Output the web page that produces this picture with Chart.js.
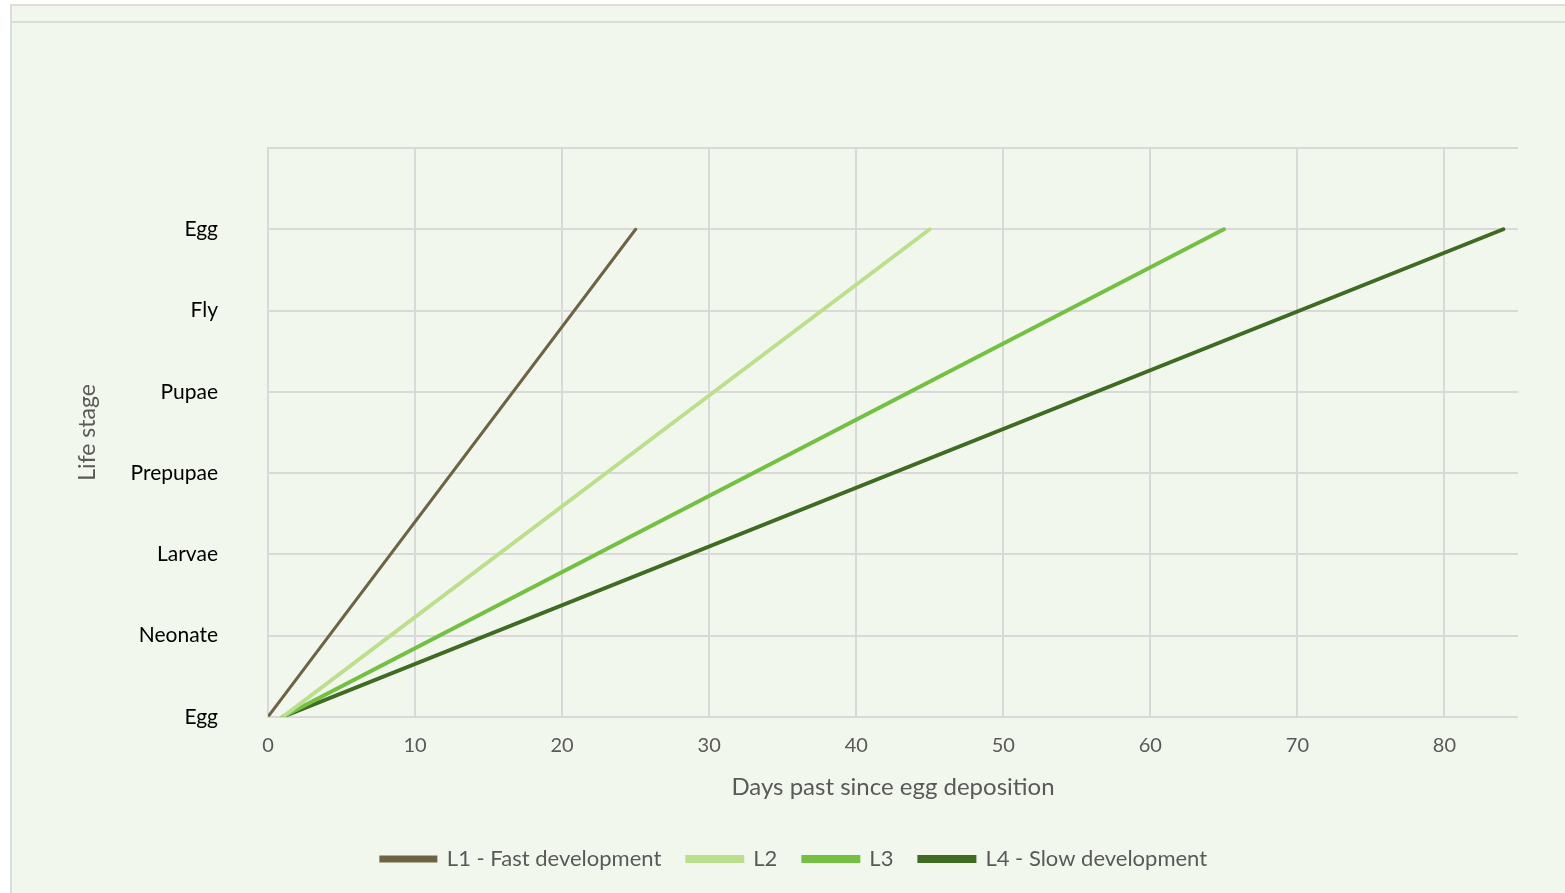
<!DOCTYPE html>
<html>
<head>
<meta charset="utf-8">
<script src="https://cdn.jsdelivr.net/npm/chart.js@4/dist/chart.umd.min.js"></script>
<style>
  html, body { margin: 0; padding: 0; background: #ffffff; width: 1565px; height: 893px; overflow: hidden; }
  #frame { position: absolute; left: 10px; top: 4px; width: 1560px; height: 895px; border: 2px solid #dcdcdc; background: #F2F7EE; box-sizing: border-box; }
  #inner { position: absolute; left: 10px; top: 21px; width: 1560px; height: 0; border-top: 2px solid #dcdcdc; }
  #wrap { position: absolute; left: 0; top: 0; width: 1565px; height: 893px; }
</style>
</head>
<body>
<div id="frame"></div>
<div id="inner"></div>
<div id="wrap"><canvas id="c" width="1565" height="893"></canvas></div>
<script>
const stageLabels = ['Egg', 'Neonate', 'Larvae', 'Prepupae', 'Pupae', 'Fly', 'Egg', ''];
const seriesNames = ['L1 - Fast development', 'L2', 'L3', 'L4 - Slow development'];
const seriesColors = ['#6E6444', '#BCDF8E', '#74C043', '#3F6C22'];
const seriesWidths = [3, 4, 4, 4];
const l1Days = [0, 25];
const l2Days = [1, 45];
const l3Days = [1, 65];
const l4Days = [1, 84];
const stageValues = [0, 6];
const xTicks = [0, 10, 20, 30, 40, 50, 60, 70, 80];

const allDays = [l1Days, l2Days, l3Days, l4Days];
const datasets = allDays.map((days, i) => ({
  label: seriesNames[i],
  data: days.map((d, j) => ({ x: d, y: stageValues[j] })),
  borderColor: seriesColors[i],
  backgroundColor: seriesColors[i],
  borderWidth: seriesWidths[i],
  borderCapStyle: 'round',
  pointRadius: 0,
  pointHoverRadius: 0,
  tension: 0
}));

const FONT = 'Lato, "Open Sans", sans-serif';

new Chart(document.getElementById('c'), {
  type: 'line',
  data: { datasets },
  options: {
    responsive: false,
    animation: false,
    events: [],
    layout: { padding: { left: 70, right: 47, top: 148, bottom: 13 } },
    plugins: {
      tooltip: { enabled: false },
      legend: {
        position: 'bottom',
        labels: {
          boxWidth: 55,
          boxHeight: 4,
          padding: 26,
          color: '#595959',
          font: { family: FONT, size: 22 }
        }
      }
    },
    scales: {
      x: {
        type: 'linear',
        min: 0,
        max: 85,
        afterBuildTicks: (axis) => { axis.ticks = xTicks.map(v => ({ value: v })); },
        ticks: { color: '#595959', font: { family: FONT, size: 20, lineHeight: 1.0 }, padding: 19, maxRotation: 0 },
        grid: { color: '#D9D9D9', lineWidth: 2, drawTicks: false },
        border: { display: false },
        title: { display: true, text: 'Days past since egg deposition', color: '#595959', font: { family: FONT, size: 24, lineHeight: 1.05 }, padding: { top: 0, bottom: 22 } }
      },
      y: {
        type: 'linear',
        min: 0,
        max: 7,
        afterBuildTicks: (axis) => { axis.ticks = stageLabels.map((s, i) => ({ value: i })); },
        afterFit: (axis) => { axis.width = 198; },
        ticks: {
          color: '#000000',
          font: { family: FONT, size: 21 },
          padding: 50,
          callback: (v) => stageLabels[v]
        },
        grid: { color: '#D9D9D9', lineWidth: 2, drawTicks: false },
        border: { display: true, color: '#D9D9D9', width: 2 },
        title: { display: true, text: 'Life stage', color: '#595959', font: { family: FONT, size: 23 }, padding: { top: 4, bottom: 0 } }
      }
    }
  }
});
</script>
</body>
</html>
